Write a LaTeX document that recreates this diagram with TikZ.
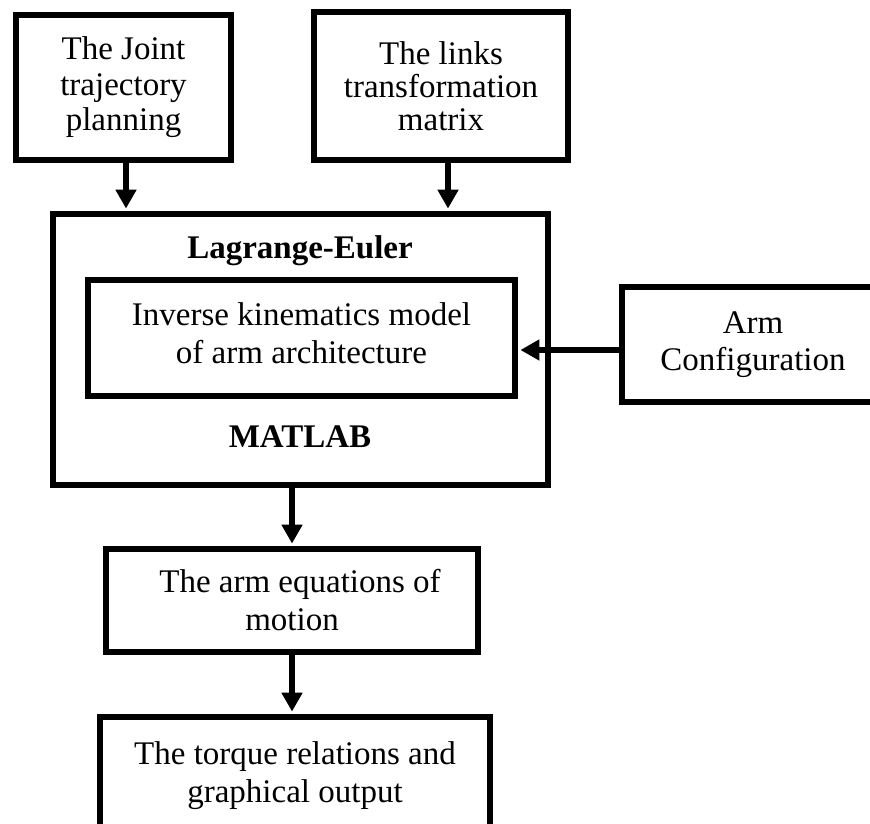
\documentclass[tikz,border=0pt]{standalone}
\usepackage{fontspec}
\setmainfont{Liberation Serif}
\usetikzlibrary{arrows.meta}
\begin{document}
\begin{tikzpicture}[x=0.5pt,y=-0.5pt,
  box/.style={draw=black, line width=3pt, inner sep=0pt, align=center,
              font=\fontsize{16.5}{19}\selectfont},
  lbl/.style={inner sep=0pt, align=center, font=\fontsize{16.5}{19}\selectfont},
  arr/.style={line width=3pt, -{Triangle[length=9.5pt,width=10pt]}, shorten >=1.2pt}]
\useasboundingbox (0,0) rectangle (870,823);
\clip (0,0) rectangle (870,823);
\fill[white] (0,0) rectangle (870,823);
% top boxes
\node[box, minimum width=107.5pt, minimum height=72.5pt, font=\fontsize{16.5}{17.75}\selectfont]
  (b1) at (123.5,87.5) {The Joint\\trajectory\\planning};
\node[box, minimum width=127pt, minimum height=73.75pt, font=\fontsize{16.5}{16.5}\selectfont]
  (b2) at (441,86) {The links\\transformation\\matrix};
% big MATLAB box
\node[box, minimum width=247.5pt, minimum height=135.5pt] (big) at (300.5,349.5) {};
\node[lbl, font=\fontsize{16.5}{19}\selectfont\bfseries] (le) at (300,251) {Lagrange-Euler};
\node[lbl, font=\fontsize{16.5}{19}\selectfont\bfseries] (ml) at (300,437) {MATLAB};
\node[box, minimum width=213.5pt, minimum height=58pt] (inner) at (301.5,338) {};
\node[lbl] (innertxt) at (301.5,333.5) {Inverse kinematics model\\of arm architecture};
% arm configuration
\node[box, minimum width=131pt, minimum height=57.5pt, font=\fontsize{16.5}{18.5}\selectfont]
  (arm) at (753,344.5) {Arm\\Configuration};
% equations of motion
\node[box, minimum width=186pt, minimum height=51.5pt] (eq) at (292,600.5)
  {\hspace*{8pt}The arm equations of\\motion};
% torque
\node[box, minimum width=195pt, minimum height=58.5pt] (torque) at (295,775.5)
  {The torque relations and\\graphical output};
% connectors
\draw[arr] ([xshift=1.25pt]b1.south) -- ([xshift=1.25pt]b1.south |- big.north);
\draw[arr] ([xshift=3.5pt]b2.south) -- ([xshift=3.5pt]b2.south |- big.north);
\coordinate (ain) at ([yshift=-6pt]inner.east);
\draw[arr] (arm.west |- ain) -- (ain);
\draw[arr] (eq.north |- big.south) -- (eq.north);
\draw[arr] (eq.south) -- (eq.south |- torque.north);
\end{tikzpicture}
\end{document}
